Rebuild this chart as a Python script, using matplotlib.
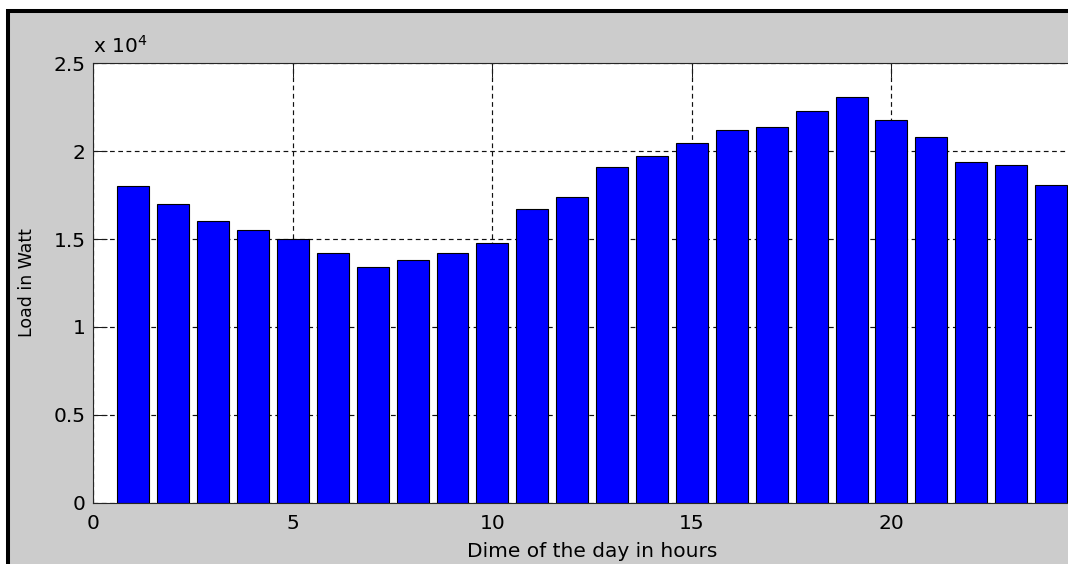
import matplotlib
matplotlib.use("Agg")
import matplotlib.pyplot as plt
from matplotlib.patches import Rectangle
from matplotlib.ticker import FuncFormatter

# Hourly load profile
hours = list(range(1, 25))
load_watt = [18000, 17000, 16000, 15500, 15000, 14200, 13400, 13800,
             14200, 14800, 16700, 17400, 19100, 19700, 20450, 21200,
             21400, 22300, 23100, 21800, 20800, 19400, 19200, 18100]
x_ticks = [0, 5, 10, 15, 20]
y_ticks = [0, 5000, 10000, 15000, 20000, 25000]
x_label = "Dime of the day in hours"
y_label = "Load in Watt"

W, H = 1068, 564
fig = plt.figure(figsize=(W / 100, H / 100), dpi=100, facecolor="white")
plt.rcParams["font.family"] = ["DejaVu Sans"]

# grey window panel with a thick black frame
frame = Rectangle((8 / W, -0.2), 1.3, 1 - 11.2 / H + 0.2,
                  transform=fig.transFigure, facecolor="#CCCCCC",
                  edgecolor="black", linewidth=2.9, zorder=0)
fig.add_artist(frame)

ax_left, ax_right = 93.3, 1091.0
ax_top, ax_bottom = 63.3, 502.7
ax = fig.add_axes([ax_left / W, (H - ax_bottom) / H,
                   (ax_right - ax_left) / W, (ax_bottom - ax_top) / H])
ax.set_facecolor("white")

ax.bar(hours, load_watt, width=0.8, color="#0000FF",
       edgecolor="black", linewidth=0.8, zorder=2)

ax.set_xlim(0, 25)
ax.set_ylim(0, 25000)
ax.set_xticks(x_ticks)
ax.set_yticks(y_ticks)
ax.yaxis.set_major_formatter(FuncFormatter(lambda v, p: f"{v / 1e4:g}"))

ax.set_axisbelow(True)
ax.grid(True, linestyle=(0, (4, 3)), color="#111111", linewidth=0.85)

ax.tick_params(direction="in", top=True, right=True, length=10,
               width=0.75, color="#1a1a1a", labelsize=14.5,
               labelcolor="black")
ax.tick_params(axis="y", pad=5.4)
ax.tick_params(axis="x", pad=8)
for s in ax.spines.values():
    s.set_color("#262626")
    s.set_linewidth(0.8)

ax.text(0, 1.025, r"x 10$^{4}$", transform=ax.transAxes, fontsize=14.5,
        ha="left", va="baseline", color="black")

ax.set_xlabel(x_label, fontsize=14.5, color="black")
ax.xaxis.label.set_va("baseline")
ax.xaxis.set_label_coords(0.5, -(557 - ax_bottom) / (ax_bottom - ax_top))

ax.set_ylabel(y_label, fontsize=12.5, color="black")
ax.yaxis.set_label_coords((36.5 - ax_left) / (ax_right - ax_left), 0.5)

fig.savefig("out.png", dpi=100, facecolor=fig.get_facecolor())
